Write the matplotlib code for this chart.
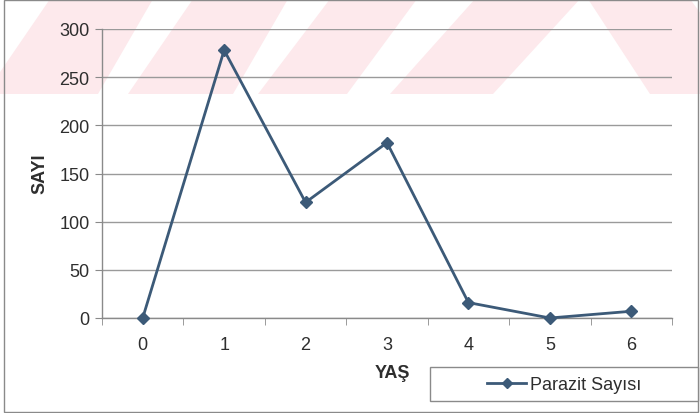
import matplotlib
matplotlib.use("Agg")
import matplotlib.pyplot as plt
from matplotlib.patches import Polygon, Rectangle
from matplotlib.ticker import FixedLocator

plt.rcParams['font.family'] = ['Liberation Sans', 'DejaVu Sans']

yas = [0, 1, 2, 3, 4, 5, 6]
parazit = [0, 278, 120, 182, 16, 0, 7]
yticks = [0, 50, 100, 150, 200, 250, 300]

W, H = 700, 414
fig = plt.figure(figsize=(W / 100, H / 100), dpi=100)

def px(x, y):
    # pixel position (from top-left) -> figure fraction
    return (x / W, 1 - y / H)

# pink diagonal bands across the top
pink = '#fde9ec'
bands = [
    [(50, 0), (153, 0), (98, 95), (-15, 95)],
    [(193, 0), (288, 0), (233, 95), (128, 95)],
    [(330, 0), (417, 0), (347, 95), (258, 95)],
    [(475, 0), (580, 0), (493, 95), (390, 95)],
    [(588, 0), (690, 0), (760, 95), (650, 95)],
]
for b in bands:
    fig.patches.append(Polygon([px(*p) for p in b], closed=True, facecolor=pink,
                               edgecolor='none', transform=fig.transFigure, zorder=0))

# outer frame
x0, y0 = px(4, 413)
x1, y1 = px(698, 1)
fig.patches.append(Rectangle((x0, y0), x1 - x0, y1 - y0, fill=False, edgecolor='#8a8a8a',
                             lw=1.0, transform=fig.transFigure, zorder=1))

# legend box
lx0, ly0 = px(430, 402)
lx1, ly1 = px(698, 368)
fig.patches.append(Rectangle((lx0, ly0), lx1 - lx0, ly1 - ly0, facecolor='white',
                             edgecolor='#8a8a8a', lw=1, transform=fig.transFigure, zorder=1))

l, t = px(102, 30)
r, b = px(672, 319)
ax = fig.add_axes([l, b, r - l, t - b])
ax.patch.set_alpha(0)
ax.set_zorder(3)

ax.plot(yas, parazit, color='#3c5a78', lw=2, marker='D', markersize=6.5,
        label='Parazit Sayısı', zorder=3, clip_on=False)

ax.set_xlim(-0.5, 6.5)
ax.set_ylim(0, 300)
ax.set_yticks(yticks)
ax.set_xticks(yas)
ax.xaxis.set_minor_locator(FixedLocator([i - 0.5 for i in range(8)]))
ax.tick_params(axis='x', which='major', length=0, pad=13, labelsize=13, labelcolor='#2e2e2e')
ax.tick_params(axis='x', which='minor', length=5, color='#8a8a8a', direction='out')
ax.tick_params(axis='y', length=5, color='#8a8a8a', pad=4, labelsize=13, labelcolor='#2e2e2e')

ax.grid(axis='y', color='#9a9a9a', lw=1)
ax.set_axisbelow(True)
for s in ['top', 'right']:
    ax.spines[s].set_visible(False)
for s in ['left', 'bottom']:
    ax.spines[s].set_color('#8a8a8a')
    ax.spines[s].set_linewidth(1)

fig.text(*px(40, 174), 'SAYI', rotation=90, ha='center', va='center',
         fontsize=13, fontweight='bold', color='#2e2e2e')
fig.text(*px(392, 374), 'YAŞ', ha='center', va='center',
         fontsize=13, fontweight='bold', color='#2e2e2e')

ax.legend(loc='center', bbox_to_anchor=px(564, 386), bbox_transform=fig.transFigure,
          frameon=False, fontsize=13, handlelength=2.2, handletextpad=0.2,
          labelcolor='#2e2e2e', markerscale=0.85)

fig.savefig('out.png', dpi=100)
